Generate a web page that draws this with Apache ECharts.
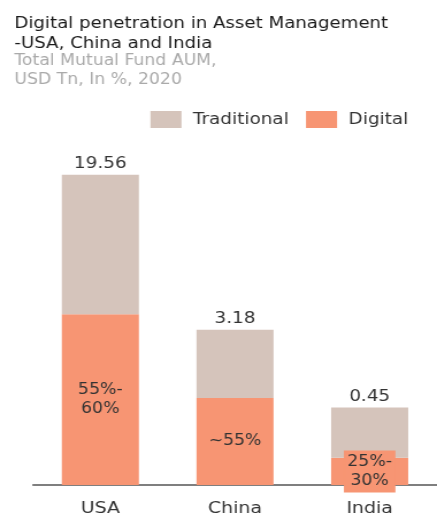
<!DOCTYPE html>
<html><head><meta charset="utf-8">
<script src="https://cdn.jsdelivr.net/npm/echarts@6/dist/echarts.min.js"></script>
<style>
html,body{margin:0;padding:0;background:#fff;overflow:hidden}
#wrap{width:437px;height:517px;overflow:hidden}
#c{width:380px;height:517px;transform:scaleX(1.15);transform-origin:0 0}
</style>
</head><body><div id="wrap"><div id="c"></div></div>
<script>
// Data
const categories = ['USA', 'China', 'India'];
const totalAUM = [19.56, 3.18, 0.45];            // USD Tn, shown above bars
const digitalLabels = ['55%-\n60%', '~55%', '25%-\n30%'];
const barScale = [1, 0.5, 0.25];                 // relative visual bar heights in the source
const digitalShare = [0.55, 0.56, 0.35];         // share of bar that is digital

const digitalVals = barScale.map((s, i) => s * digitalShare[i]);
const traditionalVals = barScale.map((s, i) => s * (1 - digitalShare[i]));

const FONT = 'DejaVu Sans';
const DIGITAL = '#f79573', TRAD = '#d5c4bb';
const chart = echarts.init(document.getElementById('c'), null, {renderer: 'canvas'});
chart.setOption({
  animation: false,
  backgroundColor: '#fff',
  textStyle: {fontFamily: FONT},
  title: {
    left: 7.5, top: 9, itemGap: -2,
    text: 'Digital penetration in Asset Management\n-USA, China and India',
    textStyle: {fontFamily: FONT, fontSize: 15.8, fontWeight: 'normal', color: '#1a1a1a', lineHeight: 20},
    subtext: 'Total Mutual Fund AUM,\nUSD Tn, In %, 2020',
    subtextStyle: {fontFamily: FONT, fontSize: 15, color: '#aaa', lineHeight: 19}
  },
  legend: {
    right: 20, top: 106, itemWidth: 27, itemHeight: 17, itemGap: 15,
    icon: 'rect',
    data: ['Traditional', 'Digital'],
    textStyle: {fontFamily: FONT, fontSize: 16, color: '#333', padding: [0, 0, 0, 5]}
  },
  grid: {left: 28.7, width: 356, top: 143.65, bottom: 517 - 488.5, containLabel: false},
  xAxis: {
    type: 'category', data: categories,
    axisLine: {lineStyle: {color: '#555', width: 1.5}},
    axisTick: {show: false},
    axisLabel: {fontFamily: FONT, fontSize: 16.5, color: '#333', margin: 15}
  },
  yAxis: {type: 'value', min: 0, max: 1.1, show: false, splitLine: {show: false}},
  series: [
    {
      name: 'Digital', type: 'bar', stack: 'a', barWidth: 67,
      itemStyle: {color: DIGITAL},
      data: digitalVals.map((v, i) => ({
        value: v,
        label: i === 2 ? {backgroundColor: DIGITAL, padding: [2, 3]} : {}
      })),
      label: {
        show: true, position: 'inside',
        fontFamily: FONT, fontSize: 15, color: '#333', lineHeight: 19,
        formatter: p => digitalLabels[p.dataIndex]
      }
    },
    {
      name: 'Traditional', type: 'bar', stack: 'a', barWidth: 67,
      itemStyle: {color: TRAD},
      data: traditionalVals,
      label: {
        show: true, position: 'top', distance: 3,
        fontFamily: FONT, fontSize: 16, color: '#333',
        formatter: p => totalAUM[p.dataIndex].toFixed(2)
      }
    }
  ]
});
</script></body></html>
